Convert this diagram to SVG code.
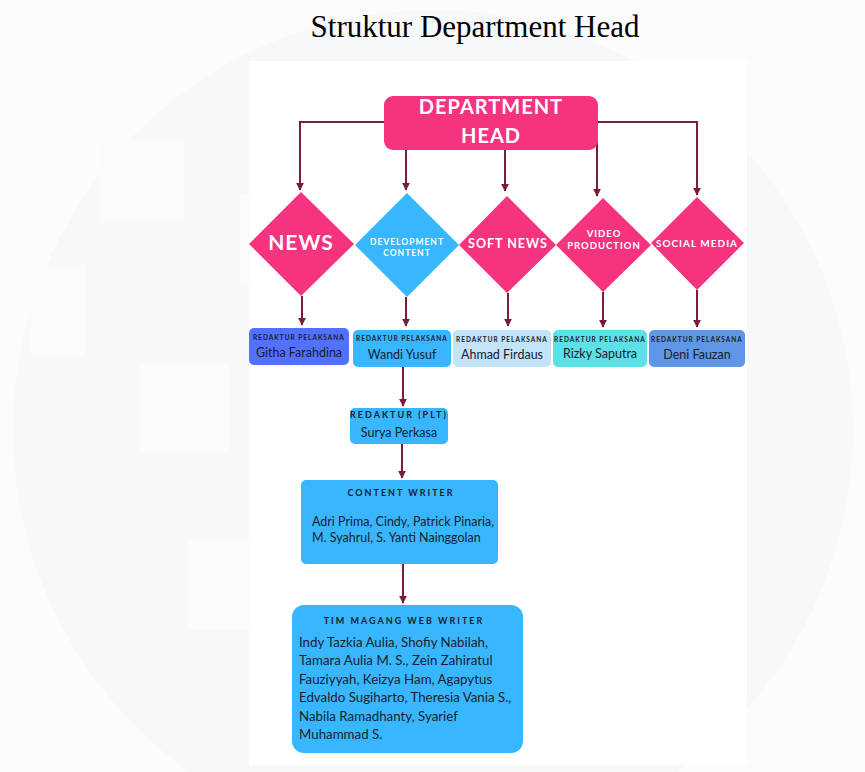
<svg xmlns="http://www.w3.org/2000/svg" width="865" height="772" viewBox="0 0 865 772">
<defs>
<marker id="arr" viewBox="0 0 10 10" refX="9" refY="5" markerWidth="4" markerHeight="4" orient="auto" markerUnits="strokeWidth">
<path d="M0,0 L10,5 L0,10 z" fill="#7a1c3c"/>
</marker>
<style>
.con{stroke:#7a1c3c;stroke-width:2;fill:none}
.hand{font-family:"Lato","Inter","Liberation Sans",sans-serif;font-weight:700;fill:#ffffff;text-anchor:middle;letter-spacing:1px}
.lbl{font-family:"Lato","Open Sans","Liberation Sans",sans-serif;font-weight:700;fill:#1c1c2c;text-anchor:middle;font-size:6.5px;letter-spacing:1px}
.ttl{font-family:"Lato","Open Sans","Liberation Sans",sans-serif;font-weight:700;fill:#1c1c2c;text-anchor:middle;font-size:9px;letter-spacing:2px}
.name{font-family:"Lato","Open Sans","Liberation Sans",sans-serif;fill:#1c1c2c;font-size:12.5px}
.big{font-size:13.3px}
.pink{fill:#f5337f}
.blue{fill:#38b6ff}
</style>
</defs>
<rect width="865" height="772" fill="#fcfcfd"/>
<circle cx="433" cy="430" r="420" fill="#f7f8fa"/>
<g fill="#fbfbfc">
<rect x="100" y="139" width="84" height="84"/>
<rect x="30" y="265" width="55" height="90"/>
<rect x="140" y="365" width="89" height="88"/>
<rect x="188" y="541" width="61" height="89"/>
<rect x="240" y="194" width="9" height="90"/>
</g>
<rect x="249" y="61" width="498" height="704" fill="#ffffff"/>
<text x="475" y="37" font-family="Liberation Serif, serif" font-size="31" fill="#000" text-anchor="middle">Struktur Department Head</text>

<g id="connectors">
<path class="con" d="M384,122 H300 V190" marker-end="url(#arr)"/>
<path class="con" d="M406,150 V190" marker-end="url(#arr)"/>
<path class="con" d="M505,150 V191" marker-end="url(#arr)"/>
<path class="con" d="M597,142 V196" marker-end="url(#arr)"/>
<path class="con" d="M598,122 H697 V195" marker-end="url(#arr)"/>
<path class="con" d="M302,296 V325" marker-end="url(#arr)"/>
<path class="con" d="M406,297 V326" marker-end="url(#arr)"/>
<path class="con" d="M508,293 V326" marker-end="url(#arr)"/>
<path class="con" d="M603,292 V327" marker-end="url(#arr)"/>
<path class="con" d="M697,290 V327" marker-end="url(#arr)"/>
<path class="con" d="M403,367 V406" marker-end="url(#arr)"/>
<path class="con" d="M402,444 V478" marker-end="url(#arr)"/>
<path class="con" d="M403,564 V603" marker-end="url(#arr)"/>
</g>

<g id="dept-head">
<rect class="pink" x="384" y="96" width="214" height="54" rx="9"/>
<text class="hand" x="491" y="114" font-size="20" letter-spacing="2">DEPARTMENT</text>
<text class="hand" x="491" y="143" font-size="20" letter-spacing="2">HEAD</text>
</g>

<g id="news">
<polygon class="pink" points="301,192 354,244 301,296 249,244"/>
<text class="hand" x="301" y="250" font-size="21" letter-spacing="1.5">NEWS</text>
</g>
<g id="development-content">
<polygon class="blue" points="407,193 459,245 407,297 355,245"/>
<text class="hand" x="407" y="245" font-size="8.5">DEVELOPMENT</text>
<text class="hand" x="407" y="256" font-size="8.5">CONTENT</text>
</g>
<g id="soft-news">
<polygon class="pink" points="507,196 556,245 507,293 459,245"/>
<text class="hand" x="508" y="248" font-size="12.5">SOFT NEWS</text>
</g>
<g id="video-production">
<polygon class="pink" points="603,198 651,245 603,292 556,245"/>
<text class="hand" x="604" y="237" font-size="9.5">VIDEO</text>
<text class="hand" x="604" y="249" font-size="9.5">PRODUCTION</text>
</g>
<g id="social-media">
<polygon class="pink" points="697,197 744,243 697,290 651,243"/>
<text class="hand" x="697" y="247" font-size="10">SOCIAL MEDIA</text>
</g>

<g id="githa">
<rect x="249" y="328" width="100" height="37" rx="5" fill="#5271ff"/>
<text class="lbl" x="299" y="340">REDAKTUR PELAKSANA</text>
<text class="name" x="299" y="357" text-anchor="middle">Githa Farahdina</text>
</g>
<g id="wandi">
<rect x="353" y="330" width="98" height="37" rx="5" fill="#38b6ff"/>
<text class="lbl" x="402" y="341">REDAKTUR PELAKSANA</text>
<text class="name" x="402" y="359" text-anchor="middle">Wandi Yusuf</text>
</g>
<g id="ahmad">
<rect x="453" y="330" width="98" height="37" rx="5" fill="#c1e4f9"/>
<text class="lbl" x="502" y="342">REDAKTUR PELAKSANA</text>
<text class="name" x="502" y="359" text-anchor="middle">Ahmad Firdaus</text>
</g>
<g id="rizky">
<rect x="553" y="330" width="94" height="37" rx="5" fill="#5ce1e6"/>
<text class="lbl" x="600" y="342">REDAKTUR PELAKSANA</text>
<text class="name" x="600" y="358" text-anchor="middle">Rizky Saputra</text>
</g>
<g id="deni">
<rect x="649" y="330" width="96" height="37" rx="5" fill="#5e97e8"/>
<text class="lbl" x="697" y="342">REDAKTUR PELAKSANA</text>
<text class="name" x="697" y="359" text-anchor="middle">Deni Fauzan</text>
</g>

<g id="redaktur-plt">
<rect x="350" y="408" width="98" height="36" rx="5" fill="#38b6ff"/>
<text class="ttl" x="399" y="418" font-size="8" letter-spacing="1.6">REDAKTUR (PLT)</text>
<text class="name" x="399" y="437" text-anchor="middle">Surya Perkasa</text>
</g>

<g id="content-writer">
<rect x="301" y="480" width="197" height="84" rx="5" fill="#38b6ff"/>
<text class="ttl" x="401" y="496">CONTENT WRITER</text>
<text class="name" x="312" y="526">Adri Prima, Cindy, Patrick Pinaria,</text>
<text class="name" x="312" y="542">M. Syahrul, S. Yanti Nainggolan</text>
</g>

<g id="tim-magang">
<rect x="292" y="605" width="231" height="148" rx="12" fill="#38b6ff"/>
<text class="ttl" x="404" y="624">TIM MAGANG WEB WRITER</text>
<text class="name big" x="299" y="647">Indy Tazkia Aulia, Shofiy Nabilah,</text>
<text class="name big" x="299" y="665">Tamara Aulia M. S., Zein Zahiratul</text>
<text class="name big" x="299" y="684">Fauziyyah, Keizya Ham, Agapytus</text>
<text class="name big" x="299" y="702">Edvaldo Sugiharto, Theresia Vania S.,</text>
<text class="name big" x="299" y="721">Nabila Ramadhanty, Syarief</text>
<text class="name big" x="299" y="739">Muhammad S.</text>
</g>
</svg>
